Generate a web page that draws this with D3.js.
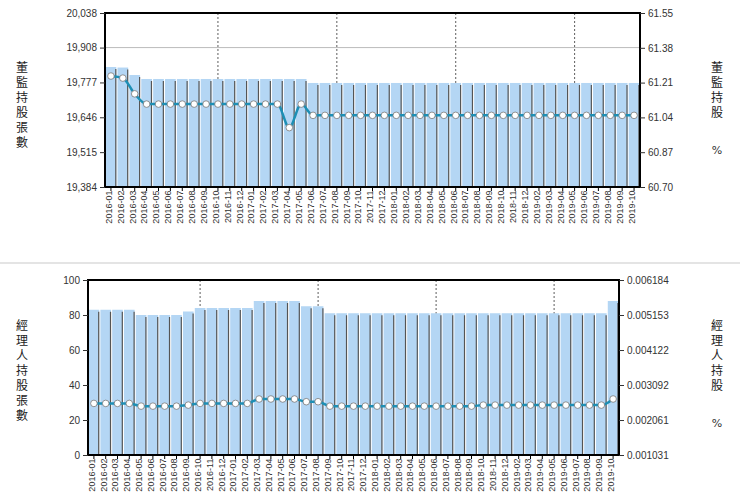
<!DOCTYPE html><html><head><meta charset="utf-8"><script src="https://cdn.jsdelivr.net/npm/d3@7"></script>
<style>body{margin:0;background:#fff}svg{font-family:"DejaVu Sans",Verdana,sans-serif}</style></head><body><svg id="c" width="740" height="504"></svg>
<script>
const months=["2016-01","2016-02","2016-03","2016-04","2016-05","2016-06","2016-07","2016-08","2016-09","2016-10","2016-11","2016-12","2017-01","2017-02","2017-03","2017-04","2017-05","2017-06","2017-07","2017-08","2017-09","2017-10","2017-11","2017-12","2018-01","2018-02","2018-03","2018-04","2018-05","2018-06","2018-07","2018-08","2018-09","2018-10","2018-11","2018-12","2019-02","2019-03","2019-04","2019-05","2019-06","2019-07","2019-08","2019-09","2019-10"];
const dirShares=[19835,19833,19805,19790,19790,19790,19790,19790,19790,19790,19790,19790,19790,19790,19790,19790,19790,19775,19775,19775,19775,19775,19775,19775,19775,19775,19775,19775,19775,19775,19775,19775,19775,19775,19775,19775,19775,19775,19775,19775,19775,19775,19775,19775,19775];
const dirPct=[61.242,61.232,61.155,61.105,61.105,61.105,61.105,61.105,61.105,61.105,61.105,61.105,61.105,61.105,61.105,60.99,61.105,61.05,61.05,61.05,61.05,61.05,61.05,61.05,61.05,61.05,61.05,61.05,61.05,61.05,61.05,61.05,61.05,61.05,61.05,61.05,61.05,61.05,61.05,61.05,61.05,61.05,61.05,61.05,61.05];
const mgrShares=[83,83,83,83,80,80,80,80,82,84,84,84,84,84,88,88,88,88,85,85,81,81,81,81,81,81,81,81,81,81,81,81,81,81,81,81,81,81,81,81,81,81,81,81,88];
const mgrPct=[0.00255,0.00255,0.00255,0.00255,0.00247,0.00247,0.00247,0.00247,0.00250,0.00255,0.00255,0.00255,0.00255,0.00255,0.00268,0.00268,0.00268,0.00268,0.00260,0.00260,0.00247,0.00247,0.00247,0.00247,0.00247,0.00247,0.00247,0.00247,0.00247,0.00247,0.00247,0.00247,0.00247,0.00250,0.00250,0.00250,0.00250,0.00250,0.00250,0.00250,0.00250,0.00250,0.00250,0.00250,0.00268];
const dirLeftTicks=[19384,19515,19646,19777,19908,20038];
const dirRightTicks=[60.70,60.87,61.04,61.21,61.38,61.55];
const mgrLeftTicks=[0,20,40,60,80,100];
const mgrRightTicks=[0.001031,0.002061,0.003092,0.004122,0.005153,0.006184];
const markMonths=["2016-10","2017-08","2018-06","2019-05"];
const svg=d3.select("#c");
svg.append("line").attr("x1",0).attr("x2",740).attr("y1",263).attr("y2",263).attr("stroke","#e4e4e4").attr("stroke-width",2);
function chart(o){
 const g=svg.append("g");
 const x=d3.scaleBand().domain(months).range([o.l,o.r]).paddingInner(0.1).paddingOuter(0.05);
 const yl=d3.scaleLinear().domain([o.lt[0],o.lt[5]]).range([o.b,o.t]);
 const yr=d3.scaleLinear().domain([o.rt[0],o.rt[5]]).range([o.b,o.t]);
 if(o.grid) g.append("line").attr("x1",o.l).attr("x2",o.r).attr("y1",yl(o.grid)).attr("y2",yl(o.grid)).attr("stroke","#bbb");
 markMonths.forEach(m=>g.append("line").attr("x1",x(m)+x.bandwidth()/2).attr("x2",x(m)+x.bandwidth()/2).attr("y1",o.t).attr("y2",o.b).attr("stroke","#333").attr("stroke-dasharray","2,2").attr("stroke-width",0.8));
 g.selectAll(".bar").data(o.bars).join("rect").attr("x",(d,i)=>x(months[i])).attr("width",x.bandwidth()).attr("y",d=>yl(d)).attr("height",d=>o.b-yl(d)).attr("fill","#b4d6f4");
 g.selectAll(".sh").data(o.bars).join("line").attr("x1",(d,i)=>x(months[i])+x.bandwidth()-0.5).attr("x2",(d,i)=>x(months[i])+x.bandwidth()-0.5).attr("y1",d=>yl(d)+2).attr("y2",o.b).attr("stroke","#555").attr("stroke-width",1.2);
 const ln=d3.line().x((d,i)=>x(months[i])+x.bandwidth()/2).y(d=>yr(d)).curve(d3.curveMonotoneX);
 g.append("path").attr("d",ln(o.line)).attr("fill","none").attr("stroke","#1d8fb5").attr("stroke-width",2.5);
 g.selectAll(".pt").data(o.line).join("circle").attr("cx",(d,i)=>x(months[i])+x.bandwidth()/2).attr("cy",d=>yr(d)).attr("r",3.3).attr("fill","#fff").attr("stroke","#777").attr("stroke-width",0.8);
 g.append("rect").attr("x",o.l).attr("y",o.t).attr("width",o.r-o.l).attr("height",o.b-o.t).attr("fill","none").attr("stroke","#000").attr("stroke-width",2);
 const al=g.append("g").attr("transform",`translate(${o.l},0)`).call(d3.axisLeft(yl).tickValues(o.lt).tickSize(5).tickFormat(o.lf));
 const ar=g.append("g").attr("transform",`translate(${o.r},0)`).call(d3.axisRight(yr).tickValues(o.rt).tickSize(5).tickFormat(o.rf));
 [al,ar].forEach(a=>{a.select(".domain").remove();a.selectAll("text").attr("font-size",10).attr("fill","#333");a.selectAll("line").attr("stroke","#333");});
 const ax=g.append("g").attr("transform",`translate(0,${o.b})`).call(d3.axisBottom(x).tickSize(4));
 ax.select(".domain").remove();
 ax.selectAll("text").attr("font-size",9).attr("fill","#333").attr("transform","rotate(-90)").attr("text-anchor","end").attr("dx","-0.4em").attr("dy","-0.35em").attr("y",4);
 const vt=(txt,xx,yy)=>{[...txt].forEach((c,i)=>g.append("text").attr("x",xx).attr("y",yy+i*15).attr("text-anchor","middle").attr("font-size",12).attr("fill","#222").attr("font-family","Noto Sans CJK TC").text(c));};
 vt(o.lt1,22,o.ly);vt(o.rt1,717,o.ry);
 g.append("text").attr("x",717).attr("y",o.ry+o.rt1.length*15+22).attr("text-anchor","middle").attr("font-size",11).attr("fill","#333").text("%");
}
chart({l:105,r:640,t:13,b:187,lt:dirLeftTicks,rt:dirRightTicks,bars:dirShares,line:dirPct,grid:19908,lf:d3.format(","),rf:d3.format(".2f"),lt1:"董監持股張數",ly:72,rt1:"董監持股",ry:72});
chart({l:88,r:619,t:280,b:455,lt:mgrLeftTicks,rt:mgrRightTicks,bars:mgrShares,line:mgrPct,grid:null,lf:d3.format("d"),rf:d3.format(".6f"),lt1:"經理人持股張數",ly:330,rt1:"經理人持股",ry:330});
</script></body></html>
